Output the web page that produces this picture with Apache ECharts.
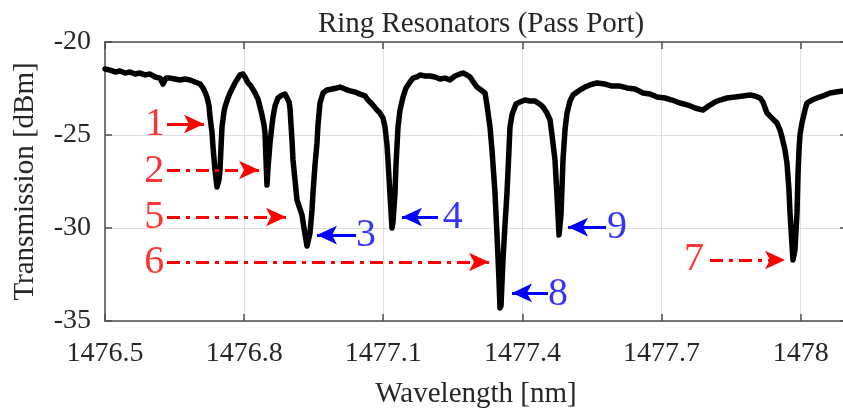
<!DOCTYPE html>
<html>
<head>
<meta charset="utf-8">
<script src="https://cdn.jsdelivr.net/npm/echarts@6/dist/echarts.min.js"></script>
<style>html,body{margin:0;padding:0;background:#fff;}#c{width:843px;height:408px;}</style>
</head>
<body>
<div id="c"></div>
<script>
const wavelength = [1476.5000,1476.5108,1476.5216,1476.5323,1476.5431,1476.5539,1476.5647,1476.5755,1476.5863,1476.5970,1476.6078,1476.6186,1476.6251,1476.6315,1476.6402,1476.6509,1476.6617,1476.6725,1476.6833,1476.6941,1476.7049,1476.7113,1476.7156,1476.7199,1476.7243,1476.7264,1476.7307,1476.7329,1476.7372,1476.7415,1476.7458,1476.7480,1476.7501,1476.7523,1476.7566,1476.7588,1476.7652,1476.7695,1476.7760,1476.7803,1476.7868,1476.7911,1476.7976,1476.8019,1476.8084,1476.8148,1476.8234,1476.8299,1476.8342,1476.8385,1476.8429,1476.8450,1476.8472,1476.8493,1476.8515,1476.8558,1476.8601,1476.8623,1476.8666,1476.8730,1476.8817,1476.8881,1476.8924,1476.8968,1476.8989,1476.9011,1476.9032,1476.9054,1476.9097,1476.9140,1476.9183,1476.9226,1476.9248,1476.9291,1476.9334,1476.9356,1476.9377,1476.9420,1476.9464,1476.9485,1476.9528,1476.9571,1476.9593,1476.9636,1476.9701,1476.9787,1476.9895,1477.0003,1477.0067,1477.0175,1477.0283,1477.0391,1477.0499,1477.0606,1477.0671,1477.0757,1477.0865,1477.0930,1477.0995,1477.1038,1477.1081,1477.1102,1477.1146,1477.1189,1477.1210,1477.1253,1477.1275,1477.1318,1477.1361,1477.1426,1477.1491,1477.1577,1477.1641,1477.1728,1477.1792,1477.1900,1477.2008,1477.2116,1477.2224,1477.2331,1477.2439,1477.2547,1477.2655,1477.2720,1477.2806,1477.2871,1477.2957,1477.3021,1477.3108,1477.3194,1477.3237,1477.3302,1477.3345,1477.3410,1477.3453,1477.3496,1477.3517,1477.3539,1477.3582,1477.3625,1477.3668,1477.3711,1477.3733,1477.3776,1477.3798,1477.3862,1477.3949,1477.4056,1477.4164,1477.4272,1477.4337,1477.4401,1477.4445,1477.4531,1477.4596,1477.4639,1477.4703,1477.4746,1477.4790,1477.4811,1477.4833,1477.4876,1477.4919,1477.4962,1477.5027,1477.5091,1477.5178,1477.5242,1477.5350,1477.5458,1477.5609,1477.5782,1477.5932,1477.6105,1477.6256,1477.6428,1477.6601,1477.6752,1477.6903,1477.7075,1477.7226,1477.7399,1477.7571,1477.7722,1477.7895,1477.8046,1477.8153,1477.8261,1477.8412,1477.8585,1477.8757,1477.8908,1477.9016,1477.9124,1477.9188,1477.9275,1477.9383,1477.9490,1477.9555,1477.9598,1477.9663,1477.9706,1477.9749,1477.9771,1477.9814,1477.9835,1477.9878,1477.9922,1477.9943,1477.9965,1477.9986,1478.0029,1478.0094,1478.0137,1478.0245,1478.0353,1478.0482,1478.0633,1478.0763,1478.0914];
const transmission = [-21.45,-21.51,-21.61,-21.56,-21.67,-21.61,-21.72,-21.67,-21.77,-21.72,-21.88,-21.94,-22.26,-21.94,-21.94,-21.99,-22.04,-21.99,-22.04,-22.15,-22.26,-22.47,-22.69,-22.96,-23.44,-24.03,-24.84,-25.65,-26.88,-27.80,-27.42,-26.88,-25.70,-24.57,-23.76,-23.49,-23.01,-22.74,-22.42,-22.20,-21.94,-21.77,-21.72,-21.88,-22.20,-22.37,-22.74,-23.06,-23.49,-23.92,-24.46,-24.89,-26.34,-27.69,-26.77,-25.43,-24.46,-24.03,-23.44,-23.01,-22.85,-22.80,-22.90,-23.23,-23.55,-24.46,-25.27,-26.34,-27.42,-28.49,-28.82,-28.92,-29.30,-30.00,-30.65,-30.97,-30.91,-30.27,-29.03,-28.12,-26.61,-25.43,-24.46,-23.28,-22.74,-22.58,-22.53,-22.47,-22.42,-22.53,-22.63,-22.69,-22.80,-22.90,-23.12,-23.33,-23.66,-23.82,-24.09,-24.57,-25.54,-26.34,-28.23,-30.00,-29.68,-28.12,-26.61,-24.57,-23.66,-22.96,-22.47,-22.15,-21.94,-21.88,-21.77,-21.83,-21.83,-21.88,-21.99,-21.94,-22.04,-21.83,-21.72,-21.67,-21.77,-21.88,-22.20,-22.42,-22.58,-22.74,-23.39,-24.57,-25.81,-28.12,-30.38,-32.80,-34.30,-34.19,-31.72,-29.84,-28.12,-25.81,-24.57,-23.92,-23.76,-23.33,-23.23,-23.12,-23.17,-23.17,-23.28,-23.39,-23.49,-23.82,-24.19,-25.00,-26.34,-28.23,-30.38,-30.43,-29.30,-26.34,-24.73,-23.82,-23.17,-22.85,-22.69,-22.58,-22.42,-22.31,-22.20,-22.26,-22.37,-22.37,-22.47,-22.53,-22.74,-22.80,-22.96,-23.01,-23.12,-23.28,-23.39,-23.55,-23.66,-23.39,-23.23,-23.12,-23.01,-22.96,-22.90,-22.85,-22.90,-23.01,-23.23,-23.82,-24.09,-24.35,-24.73,-25.11,-25.81,-26.51,-27.96,-29.19,-30.91,-31.72,-31.18,-29.19,-27.15,-25.81,-25.00,-24.35,-23.66,-23.28,-23.12,-23.01,-22.90,-22.74,-22.69,-22.63];

const xTicks = [1476.5, 1476.8, 1477.1, 1477.4, 1477.7, 1478];
const yTicks = [-35, -30, -25, -20];
const xMax = 1478.1;

// annotation labels: [text, wavelength, dBm]
const redLabels = [['1',1476.608,-24.41],['2',1476.606,-26.94],['5',1476.606,-29.41],['6',1476.606,-31.83],['7',1477.770,-31.72]];
const blueLabels = [['3',1477.063,-30.38],['4',1477.250,-29.41],['8',1477.477,-33.60],['9',1477.604,-29.95]];
// arrows: [fromWavelength, toWavelength (tip), dBm, dashed]
const redArrows = [[1476.6337,1476.7135,-24.41,false],[1476.6337,1476.8321,-26.88,true],[1476.6337,1476.8903,-29.41,true],[1476.6337,1477.3280,-31.83,true],[1477.8046,1477.9663,-31.72,true]];
const blueArrows = [[1477.0412,1476.9571,-30.38],[1477.2180,1477.1404,-29.41],[1477.4552,1477.3776,-33.49],[1477.5803,1477.4984,-29.95]];

const FONT = 'Liberation Serif';
const TXT = '#262626';
const AX = '#4d4d4d';
const GRID = '#dedede';

const chart = echarts.init(document.getElementById('c'), null, {renderer:'canvas'});
const fmtX = v => String(+(+v).toFixed(1));

function arrowLines(list, color, dashedDefault) {
  return list.map(a => {
    const dashed = a.length > 3 ? a[3] : dashedDefault;
    return [
      {coord:[a[0], a[2]], symbol:'none', lineStyle:{color:color, width:3, type: dashed ? [13,6,4,6] : 'solid'}},
      {coord:[a[1], a[2]], symbol:'arrow', symbolSize:[14,20], itemStyle:{color:color}}
    ];
  });
}

const option = {
  animation:false,
  backgroundColor:'#fff',
  title:{text:'Ring Resonators (Pass Port)', left:476, textAlign:'center', top:5,
    textStyle:{fontFamily:FONT, fontSize:29, fontWeight:'normal', color:TXT}},
  grid:{left:105, top:42, width:742, height:279, containLabel:false, outerBoundsMode:'none'},
  xAxis:[{
    type:'value', min:xTicks[0], max:xMax, interval:0.3, position:'bottom',
    name:'Wavelength [nm]', nameLocation:'middle', nameGap:59,
    nameTextStyle:{fontFamily:FONT, fontSize:29, color:TXT},
    axisLine:{show:true, onZero:false, lineStyle:{color:AX, width:1.5}},
    axisTick:{show:true, inside:true, length:7, lineStyle:{color:AX, width:1.5}},
    axisLabel:{fontFamily:FONT, fontSize:28, color:TXT, margin:19, formatter:fmtX, showMaxLabel:false},
    splitLine:{show:true, lineStyle:{color:GRID, width:1}}
  },{
    type:'value', min:xTicks[0], max:xMax, interval:0.3, position:'top',
    axisLine:{show:true, onZero:false, lineStyle:{color:AX, width:1.5}},
    axisTick:{show:true, inside:true, length:7, lineStyle:{color:AX, width:1.5}},
    axisLabel:{show:false}, splitLine:{show:false}
  }],
  yAxis:[{
    type:'value', min:yTicks[0], max:yTicks[yTicks.length-1], interval:5, position:'left',
    name:'Transmission [dBm]', nameLocation:'middle', nameGap:65, nameRotate:90,
    nameTextStyle:{fontFamily:FONT, fontSize:29, color:TXT},
    axisLine:{show:true, onZero:false, lineStyle:{color:AX, width:1.5}},
    axisTick:{show:true, inside:true, length:7, lineStyle:{color:AX, width:1.5}},
    axisLabel:{fontFamily:FONT, fontSize:28, color:TXT, margin:14},
    splitLine:{show:true, lineStyle:{color:GRID, width:1}}
  },{
    type:'value', min:yTicks[0], max:yTicks[yTicks.length-1], interval:5, position:'right',
    axisLine:{show:true, onZero:false, lineStyle:{color:AX, width:1.5}},
    axisTick:{show:true, inside:true, length:7, lineStyle:{color:AX, width:1.5}},
    axisLabel:{show:false}, splitLine:{show:false}
  }],
  series:[{
    type:'line', name:'trace',
    data: wavelength.map((w,i)=>[w, transmission[i]]),
    showSymbol:false, symbol:'none', clip:true,
    lineStyle:{color:'#000', width:5.5, join:'round', cap:'round'},
    z:3,
    markLine:{
      silent:true, symbol:['none','arrow'], symbolSize:18,
      label:{show:false},
      data: arrowLines(redArrows, '#ff0000', true).concat(arrowLines(blueArrows, '#0000ff', false)),
      z:5
    }
  },{
    type:'scatter', name:'redLabels', symbolSize:0.1, z:6,
    data: redLabels.map(l=>({name:l[0], value:[l[1], l[2]]})),
    label:{show:true, position:'inside', formatter:'{b}', fontFamily:FONT, fontSize:40, color:'#ff0000'}
  },{
    type:'scatter', name:'blueLabels', symbolSize:0.1, z:6,
    data: blueLabels.map(l=>({name:l[0], value:[l[1], l[2]]})),
    label:{show:true, position:'inside', formatter:'{b}', fontFamily:FONT, fontSize:40, color:'#0000ff'}
  }]
};
chart.setOption(option);
</script>
</body>
</html>
